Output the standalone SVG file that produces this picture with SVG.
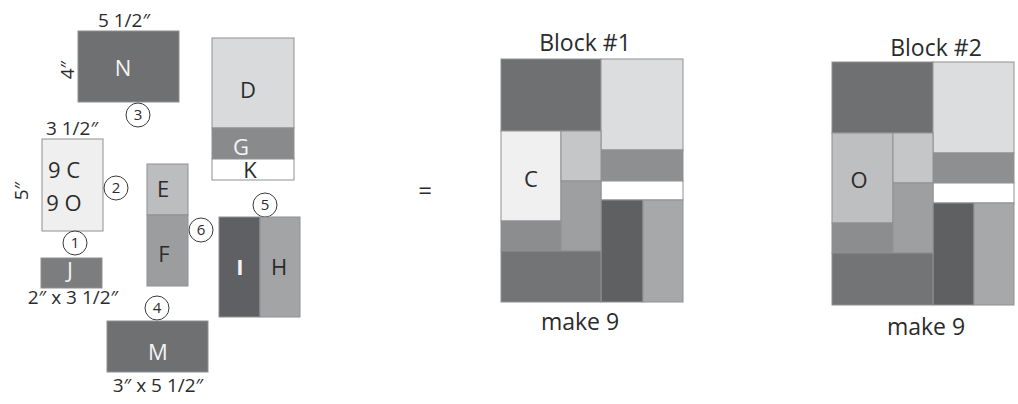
<svg xmlns="http://www.w3.org/2000/svg" width="1018" height="404" viewBox="0 0 1018 404">
<style>
text{font-family:"Open Sans","Noto Sans","Liberation Sans",sans-serif;fill:#2b2b2b}
.p{stroke:#8f9092;stroke-width:1}
.lbl{font-size:22px;text-anchor:middle}
.w{fill:#f4f4f4}
.dim{font-size:19px;text-anchor:middle}
.num{font-size:15px;text-anchor:middle}
.c{fill:#fff;stroke:#3a3a3a;stroke-width:1}
.ttl{font-size:23px;text-anchor:middle}
</style>
<rect width="1018" height="404" fill="#fff"/>

<g id="N">
<rect class="p" x="78" y="31" width="101" height="71" fill="#6f7072"/>
<text class="lbl w" x="123" y="76">N</text>
<text class="dim" x="124" y="27">5 1/2″</text>
<text class="dim" transform="translate(74,70) rotate(-90)">4″</text>
</g>
<g id="c3"><circle class="c" cx="138" cy="115" r="12"/><text class="num" x="138" y="120">3</text></g>

<g id="DGK">
<rect class="p" x="212" y="38" width="82" height="90" fill="#d9dadc"/>
<rect class="p" x="212" y="128" width="82" height="31" fill="#898a8c"/>
<rect class="p" x="212" y="159" width="82" height="21" fill="#ffffff"/>
<text class="lbl" x="248" y="98">D</text>
<text class="lbl w" x="241" y="155">G</text>
<text class="lbl" x="250" y="178">K</text>
</g>

<g id="CO">
<text class="dim" x="72" y="135">3 1/2″</text>
<rect class="p" x="42" y="139" width="61" height="92" fill="#efefef"/>
<text class="lbl" x="64" y="178">9 C</text>
<text class="lbl" x="64" y="211">9 O</text>
<text class="dim" transform="translate(28,191) rotate(-90)">5″</text>
</g>
<g id="c2"><circle class="c" cx="116" cy="188" r="12"/><text class="num" x="116" y="193">2</text></g>

<g id="EF">
<rect class="p" x="147" y="164" width="41" height="51" fill="#bcbdbf"/>
<rect class="p" x="147" y="215" width="41" height="71" fill="#9c9d9f"/>
<text class="lbl" x="163" y="197">E</text>
<text class="lbl" x="164" y="262">F</text>
</g>
<g id="c6"><circle class="c" cx="201" cy="230" r="12"/><text class="num" x="201" y="235">6</text></g>
<g id="c5"><circle class="c" cx="265" cy="205" r="12"/><text class="num" x="265" y="210">5</text></g>

<g id="IH">
<rect class="p" x="219" y="217" width="41" height="100" fill="#5f6063"/>
<rect class="p" x="260" y="217" width="40" height="100" fill="#a3a4a6"/>
<text class="lbl w" x="240" y="275" font-weight="bold" font-family="Liberation Serif, serif">I</text>
<text class="lbl" x="279" y="275">H</text>
</g>

<g id="c1"><circle class="c" cx="75" cy="243" r="12"/><text class="num" x="75" y="248">1</text></g>
<g id="J">
<rect class="p" x="41" y="258" width="61" height="30" fill="#7c7d7f"/>
<text class="lbl w" x="70" y="278" font-size="17">J</text>
<text class="dim" x="73" y="304">2″ x 3 1/2″</text>
</g>

<g id="c4"><circle class="c" cx="157" cy="308" r="12"/><text class="num" x="157" y="313">4</text></g>
<g id="M">
<rect class="p" x="107" y="321" width="101" height="51" fill="#6f7072"/>
<text class="lbl w" x="158" y="360">M</text>
<text class="dim" x="158" y="392">3″ x 5 1/2″</text>
</g>

<g id="eq"><text x="425" y="199" font-size="24" text-anchor="middle">=</text></g>

<g id="block1">
<text class="ttl" x="585" y="51">Block #1</text>
<rect class="p" x="501" y="59" width="100" height="72" fill="#6f7072"/>
<rect class="p" x="601" y="59" width="82" height="91" fill="#dcdddf"/>
<rect class="p" x="601" y="150" width="82" height="31" fill="#8e8f91"/>
<rect class="p" x="601" y="181" width="82" height="19" fill="#ffffff"/>
<rect class="p" x="601" y="200" width="42" height="102" fill="#5f6062"/>
<rect class="p" x="643" y="200" width="40" height="102" fill="#a7a8aa"/>
<rect class="p" x="501" y="131" width="60" height="90" fill="#f0f0f0"/>
<rect class="p" x="501" y="221" width="60" height="30" fill="#8c8d8f"/>
<rect class="p" x="561" y="131" width="40" height="50" fill="#c5c6c8"/>
<rect class="p" x="561" y="181" width="40" height="70" fill="#9e9fa1"/>
<rect class="p" x="501" y="251" width="100" height="51" fill="#737476"/>
<text class="lbl" x="531" y="187" font-size="26">C</text>
<text class="ttl" x="580" y="330">make 9</text>
</g>

<g id="block2">
<text class="ttl" x="936" y="56">Block #2</text>
<rect class="p" x="832" y="62" width="101" height="71" fill="#6f7072"/>
<rect class="p" x="933" y="62" width="81" height="91" fill="#dcdddf"/>
<rect class="p" x="933" y="153" width="81" height="30" fill="#8e8f91"/>
<rect class="p" x="933" y="183" width="81" height="20" fill="#ffffff"/>
<rect class="p" x="933" y="203" width="41" height="102" fill="#5f6062"/>
<rect class="p" x="974" y="203" width="40" height="102" fill="#a7a8aa"/>
<rect class="p" x="832" y="133" width="61" height="90" fill="#bebfc1"/>
<rect class="p" x="832" y="223" width="61" height="30" fill="#8c8d8f"/>
<rect class="p" x="893" y="133" width="40" height="50" fill="#c5c6c8"/>
<rect class="p" x="893" y="183" width="40" height="70" fill="#9e9fa1"/>
<rect class="p" x="832" y="253" width="101" height="52" fill="#737476"/>
<text class="lbl" x="859" y="188" font-size="26">O</text>
<text class="ttl" x="926" y="335">make 9</text>
</g>
</svg>
